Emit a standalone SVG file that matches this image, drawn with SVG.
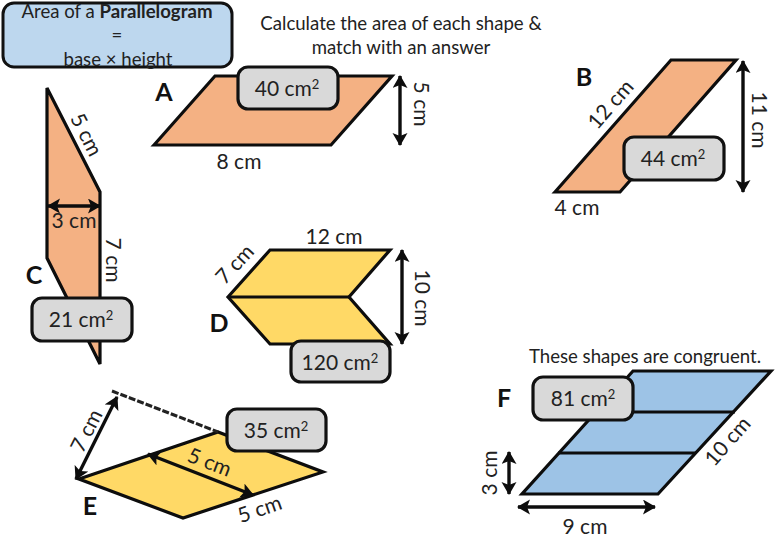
<svg xmlns="http://www.w3.org/2000/svg" width="780" height="540" viewBox="0 0 780 540">
<style>
text{font-family:Lato,"Open Sans","Liberation Sans",sans-serif;fill:#222;font-size:21px;text-anchor:middle}
.small{font-size:18.6px}
.letter{font-size:25px;font-weight:700;fill:#111}
.shape{stroke:#0d0d0d;stroke-width:3.2;stroke-linejoin:miter}
.orange{fill:#F4B183}.yellow{fill:#FFD966}.blue{fill:#9DC3E6}
.ans{fill:#D9D9D9;stroke:#111;stroke-width:3.2}
.arrow{fill:none;stroke:#0d0d0d;stroke-width:3.4;marker-start:url(#ah);marker-end:url(#ah)}
.sup{font-size:13px}
</style>
<defs>
<marker id="ah" markerUnits="userSpaceOnUse" markerWidth="16" markerHeight="16" refX="12" refY="7.5" orient="auto-start-reverse"><path d="M0 0L13 7.5L0 15L3 7.5Z" fill="#0d0d0d"/></marker>
</defs>
<g id="formula">
<rect x="3" y="3" width="229" height="64" rx="11" fill="#BDD7EE" stroke="#111" stroke-width="3"/>
<text class="small" x="117" y="18">Area of a <tspan font-weight="700">Parallelogram</tspan></text>
<text class="small" x="117" y="42">=</text>
<text class="small" x="118" y="66">base × height</text>
</g>
<g id="instructions">
<text class="small" x="401" y="30">Calculate the area of each shape &amp;</text>
<text class="small" x="401" y="54">match with an answer</text>
</g>
<g id="shape-a">
<polygon class="shape orange" points="154,145 215,76 392,76 331,145"/>
<text class="letter" x="164" y="101">A</text>
<text x="239" y="169">8 cm</text>
<text transform="translate(414,104) rotate(90)">5 cm</text>
<rect class="ans" x="238" y="67" width="100" height="42" rx="10"/>
<text x="287" y="96">40 cm<tspan class="sup" dy="-7">2</tspan></text>
</g>
<g id="shape-b">
<polygon class="shape orange" points="555,192 671,60 736,60 620,192"/>
<text class="letter" x="584" y="86">B</text>
<text transform="translate(616,109) rotate(-49)">12 cm</text>
<text x="577" y="215">4 cm</text>
<text transform="translate(752,120) rotate(90)">11 cm</text>
<rect class="ans" x="624" y="137" width="100" height="43" rx="10"/>
<text x="673" y="166">44 cm<tspan class="sup" dy="-7">2</tspan></text>
</g>
<g id="shape-c">
<polygon class="shape orange" points="47,88 100,192 100,364 47,258"/>
<text transform="translate(80,138) rotate(63)">5 cm</text>
<text x="74" y="228">3 cm</text>
<text transform="translate(106,260) rotate(90)">7 cm</text>
<text class="letter" x="34" y="284">C</text>
<rect class="ans" x="32" y="298" width="100" height="43" rx="10"/>
<text x="81" y="327">21 cm<tspan class="sup" dy="-7">2</tspan></text>
</g>
<g id="shape-d">
<polygon class="shape yellow" points="228,297 270,250 390,250 349,297 390,344 270,344"/>
<line class="shape" x1="228" y1="297" x2="349" y2="297"/>
<text x="334" y="244">12 cm</text>
<text transform="translate(240,269) rotate(-47)">7 cm</text>
<text class="letter" x="219" y="332">D</text>
<text transform="translate(415,298) rotate(90)">10 cm</text>
<rect class="ans" x="291" y="341" width="99" height="41" rx="10"/>
<text x="340" y="370">120 cm<tspan class="sup" dy="-7">2</tspan></text>
</g>
<g id="shape-e">
<polygon class="shape yellow" points="79,479 218,432 323,472 183,518"/>
<line x1="112" y1="391" x2="218" y2="432" stroke="#222" stroke-width="3" stroke-dasharray="7 2"/>
<text transform="translate(93,434) rotate(-63)">7 cm</text>
<text transform="translate(207,469) rotate(21)">5 cm</text>
<text transform="translate(262,516) rotate(-19)">5 cm</text>
<text class="letter" x="90" y="515">E</text>
<rect class="ans" x="227" y="409" width="99" height="42" rx="10"/>
<text x="276" y="438">35 cm<tspan class="sup" dy="-7">2</tspan></text>
</g>
<g id="shape-f">
<polygon class="shape blue" points="522,494 658,494 771,371 633,371"/>
<line class="shape" x1="590" y1="412" x2="735" y2="412"/>
<line class="shape" x1="558" y1="453" x2="696" y2="453"/>
<text class="small" x="645" y="363">These shapes are congruent.</text>
<text class="letter" x="504" y="407">F</text>
<text transform="translate(733,446) rotate(-49)">10 cm</text>
<text transform="translate(497,473) rotate(-90)">3 cm</text>
<text x="585" y="534">9 cm</text>
<rect class="ans" x="533" y="377" width="100" height="43" rx="10"/>
<text x="583" y="406">81 cm<tspan class="sup" dy="-7">2</tspan></text>
</g>
<g id="connectors">
<line class="arrow" x1="400" y1="76" x2="400" y2="145"/>
<line class="arrow" x1="743" y1="61" x2="743" y2="192"/>
<line class="arrow" x1="48" y1="206" x2="100" y2="206"/>
<line class="arrow" x1="402" y1="250" x2="402" y2="344"/>
<line class="arrow" x1="117" y1="397" x2="76" y2="479"/>
<line class="arrow" x1="148" y1="454" x2="253" y2="495"/>
<line class="arrow" x1="509" y1="452" x2="509" y2="494"/>
<line class="arrow" x1="518" y1="507" x2="655" y2="507"/>
</g>
</svg>
